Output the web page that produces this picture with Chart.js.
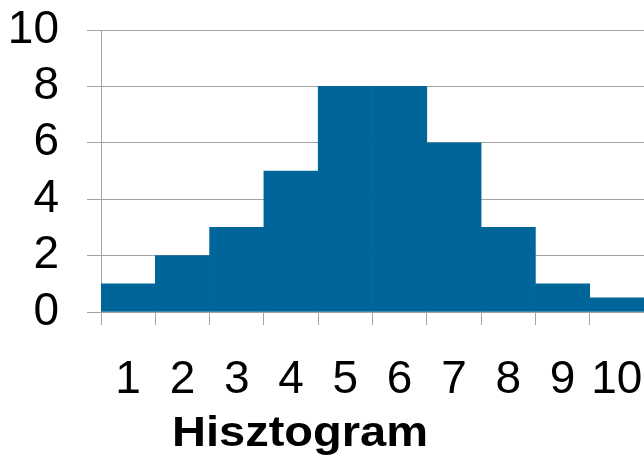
<!DOCTYPE html>
<html>
<head>
<meta charset="utf-8">
<style>
  html, body { margin: 0; padding: 0; background: #ffffff; overflow: hidden; }
  #wrap { width: 644px; height: 458px; }
</style>
<script src="https://cdn.jsdelivr.net/npm/chart.js@4/dist/chart.umd.min.js"></script>
</head>
<body>
<div id="wrap"><canvas id="chart" width="644" height="458"></canvas></div>
<script>
// Histogram classes and their frequencies
const categories = ['1', '2', '3', '4', '5', '6', '7', '8', '9', '10'];
const counts = [1, 2, 3, 5, 8, 8, 6, 3, 1, 0.5];
const yTicks = [0, 2, 4, 6, 8, 10];
const chartTitle = 'Hisztogram';

const barColor = '#006699';
const lineColor = '#a3a3a3';

// Bold caption written under the category labels
const captionPlugin = {
  id: 'caption',
  afterDraw(chart) {
    const ctx = chart.ctx;
    ctx.save();
    ctx.fillStyle = '#000000';
    ctx.font = 'bold 42px "Liberation Sans", Arial, sans-serif';
    ctx.textAlign = 'center';
    ctx.textBaseline = 'alphabetic';
    ctx.translate(300, 446);
    ctx.scale(1.12, 1);
    ctx.fillText(chartTitle, 0, 0);
    ctx.restore();
  }
};

new Chart(document.getElementById('chart'), {
  type: 'bar',
  data: {
    labels: categories,
    datasets: [{
      data: counts,
      backgroundColor: barColor,
      borderWidth: 0,
      barPercentage: 1,
      categoryPercentage: 1
    }]
  },
  options: {
    responsive: false,
    animation: false,
    devicePixelRatio: 1,
    layout: { padding: { left: 8, top: 30, right: 0, bottom: 50 } },
    plugins: {
      legend: { display: false },
      tooltip: { enabled: false },
      title: { display: false }
    },
    scales: {
      x: {
        offset: true,
        afterFit(scale) {
          scale.paddingLeft = 0;
          scale.paddingRight = 0;
          scale.height = 96;
        },
        grid: {
          offset: true,
          drawOnChartArea: false,
          drawTicks: true,
          tickLength: 13,
          color: lineColor,
          lineWidth: 1
        },
        border: { display: true, color: lineColor, width: 1 },
        ticks: {
          color: '#000000',
          padding: 28,
          maxRotation: 0,
          autoSkip: false,
          font: { family: '"Liberation Sans", Arial, sans-serif', size: 46 }
        }
      },
      y: {
        min: 0,
        max: 10,
        afterBuildTicks(scale) {
          scale.ticks = yTicks.map(v => ({ value: v }));
        },
        afterFit(scale) {
          scale.paddingTop = 0;
          scale.paddingBottom = 0;
          scale.width = 93;
        },
        grid: {
          drawTicks: true,
          tickLength: 14,
          color: lineColor,
          lineWidth: 1
        },
        border: { display: true, color: lineColor, width: 1 },
        ticks: {
          color: '#000000',
          padding: 28,
          autoSkip: false,
          font: { family: '"Liberation Sans", Arial, sans-serif', size: 46 }
        }
      }
    }
  },
  plugins: [captionPlugin]
});
</script>
</body>
</html>
